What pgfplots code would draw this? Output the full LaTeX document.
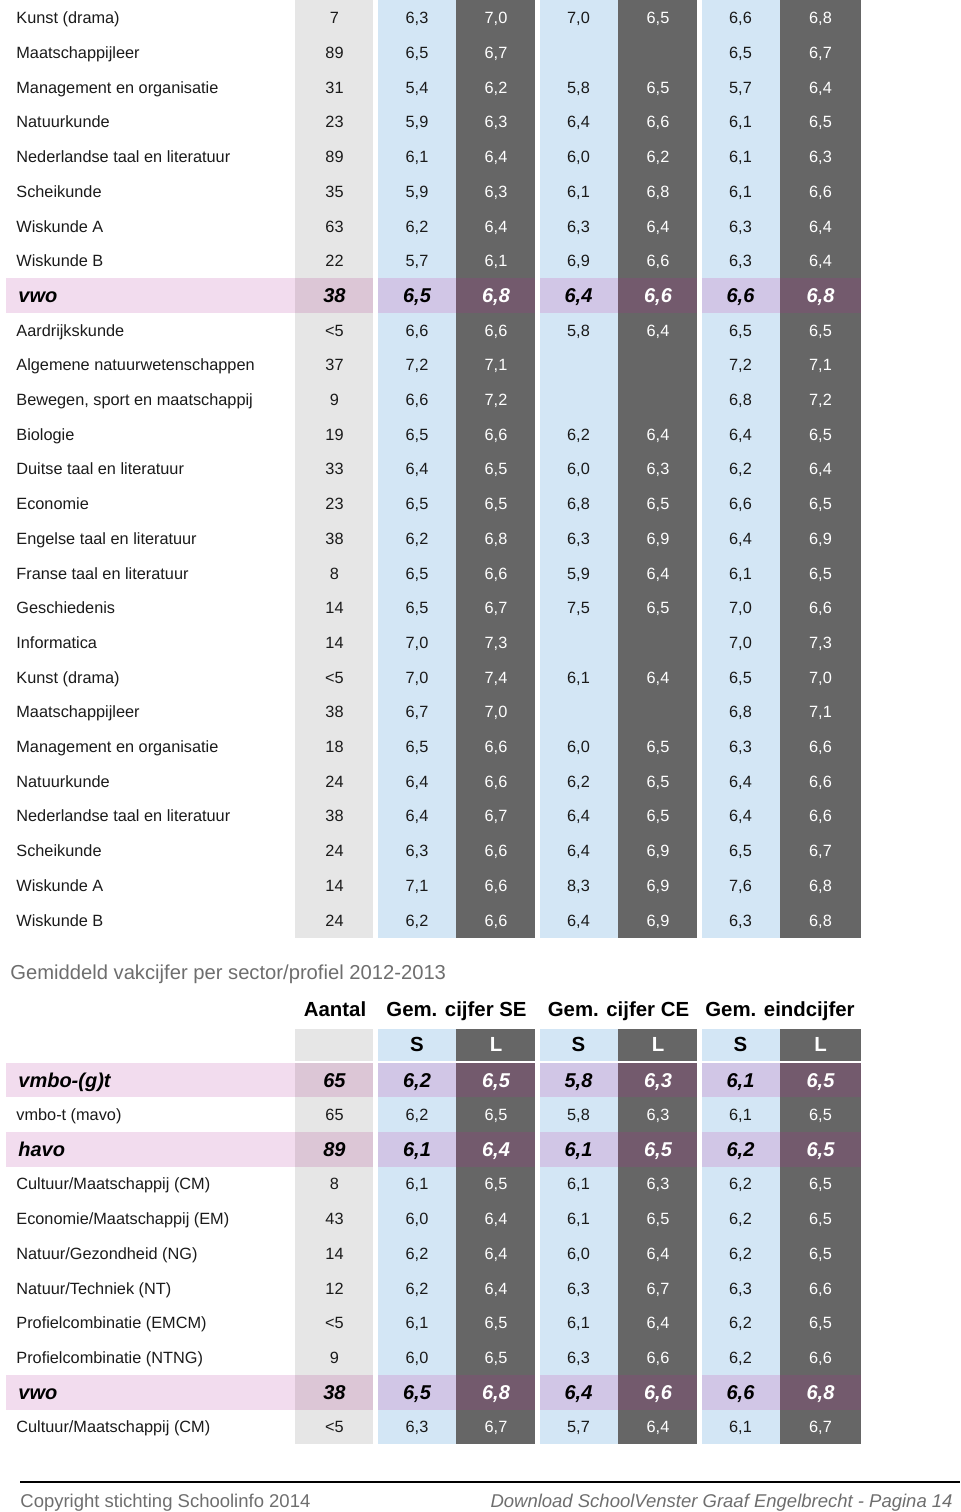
\documentclass[border=0pt]{standalone}
\usepackage{fontspec}
\setmainfont{Liberation Sans}
\usepackage{pgfplots}
\pgfplotsset{compat=1.18}
\usepackage{pgfplotstable}

\definecolor{cA}{HTML}{E6E6E6}
\definecolor{cS}{HTML}{D3E6F5}
\definecolor{cL}{HTML}{666666}
\definecolor{hP}{HTML}{F2DCEE}
\definecolor{hA}{HTML}{DCC6D6}
\definecolor{hS}{HTML}{D1C6E6}
\definecolor{hL}{HTML}{735A6D}
\definecolor{txt}{HTML}{1A1A1A}
\definecolor{grayt}{HTML}{6E6E6E}

\newcommand\fbody{\fontsize{8.15}{9.8}\selectfont}
\newcommand\fhl{\fontsize{10}{12}\selectfont\bfseries\itshape}
\newcommand\fhead{\fontsize{10.2}{12}\selectfont\bfseries}

% filled cell: x1 x2 y1 y2 colour
\newcommand\cell[5]{\addplot[fill=#5, draw=none, forget plot] coordinates {(#1,#3) (#2,#3) (#2,#4) (#1,#4)} -- cycle;}
% text column: column, x, baseline of row 0, font, colour, table, anchor
\newcommand\txtcol[7]{\addplot[draw=none, forget plot, nodes near coords={\pgfplotspointmeta}, point meta=explicit symbolic,
  every node near coord/.append style={anchor=#7, inner sep=0pt, font=#4, text=#5}]
  table[x expr=#2, y expr={#3+34.7*\thisrow{row}}, meta=#1] {#6};}
\newcommand\allcols[5]{% table, baseline row0, font, dark-text colour, label x
  \txtcol{label}{#5}{#2}{#3}{#4}{#1}{base west}
  \txtcol{A}{334.5}{#2}{#3}{#4}{#1}{base}
  \txtcol{S1}{417}{#2}{#3}{#4}{#1}{base}
  \txtcol{L1}{496}{#2}{#3}{white}{#1}{base}
  \txtcol{S2}{578.5}{#2}{#3}{#4}{#1}{base}
  \txtcol{L2}{658}{#2}{#3}{white}{#1}{base}
  \txtcol{S3}{740.5}{#2}{#3}{#4}{#1}{base}
  \txtcol{L3}{820.5}{#2}{#3}{white}{#1}{base}}
\newcommand\hlrow[2]{%
  \cell{6}{295}{#1}{#2}{hP}
  \cell{295}{373}{#1}{#2}{hA}
  \cell{378}{456}{#1}{#2}{hS}
  \cell{456}{535}{#1}{#2}{hL}
  \cell{540}{618}{#1}{#2}{hS}
  \cell{618}{697}{#1}{#2}{hL}
  \cell{702}{780}{#1}{#2}{hS}
  \cell{780}{861}{#1}{#2}{hL}}
\newcommand\bgcols[2]{%
  \cell{295}{373}{#1}{#2}{cA}
  \cell{378}{456}{#1}{#2}{cS}
  \cell{456}{535}{#1}{#2}{cL}
  \cell{540}{618}{#1}{#2}{cS}
  \cell{618}{697}{#1}{#2}{cL}
  \cell{702}{780}{#1}{#2}{cS}
  \cell{780}{861}{#1}{#2}{cL}}

\pgfplotstableread[col sep=semicolon]{
row;label;A;S1;L1;S2;L2;S3;L3
0;Kunst (drama);7;6,3;7,0;7,0;6,5;6,6;6,8
1;Maatschappijleer;89;6,5;6,7;;;6,5;6,7
2;Management en organisatie;31;5,4;6,2;5,8;6,5;5,7;6,4
3;Natuurkunde;23;5,9;6,3;6,4;6,6;6,1;6,5
4;Nederlandse taal en literatuur;89;6,1;6,4;6,0;6,2;6,1;6,3
5;Scheikunde;35;5,9;6,3;6,1;6,8;6,1;6,6
6;Wiskunde A;63;6,2;6,4;6,3;6,4;6,3;6,4
7;Wiskunde B;22;5,7;6,1;6,9;6,6;6,3;6,4
9;Aardrijkskunde;<5;6,6;6,6;5,8;6,4;6,5;6,5
10;Algemene natuurwetenschappen;37;7,2;7,1;;;7,2;7,1
11;Bewegen, sport en maatschappij;9;6,6;7,2;;;6,8;7,2
12;Biologie;19;6,5;6,6;6,2;6,4;6,4;6,5
13;Duitse taal en literatuur;33;6,4;6,5;6,0;6,3;6,2;6,4
14;Economie;23;6,5;6,5;6,8;6,5;6,6;6,5
15;Engelse taal en literatuur;38;6,2;6,8;6,3;6,9;6,4;6,9
16;Franse taal en literatuur;8;6,5;6,6;5,9;6,4;6,1;6,5
17;Geschiedenis;14;6,5;6,7;7,5;6,5;7,0;6,6
18;Informatica;14;7,0;7,3;;;7,0;7,3
19;Kunst (drama);<5;7,0;7,4;6,1;6,4;6,5;7,0
20;Maatschappijleer;38;6,7;7,0;;;6,8;7,1
21;Management en organisatie;18;6,5;6,6;6,0;6,5;6,3;6,6
22;Natuurkunde;24;6,4;6,6;6,2;6,5;6,4;6,6
23;Nederlandse taal en literatuur;38;6,4;6,7;6,4;6,5;6,4;6,6
24;Scheikunde;24;6,3;6,6;6,4;6,9;6,5;6,7
25;Wiskunde A;14;7,1;6,6;8,3;6,9;7,6;6,8
26;Wiskunde B;24;6,2;6,6;6,4;6,9;6,3;6,8
}\toptable

\pgfplotstableread[col sep=semicolon]{
row;label;A;S1;L1;S2;L2;S3;L3
8;vwo;38;6,5;6,8;6,4;6,6;6,6;6,8
}\tophl

\pgfplotstableread[col sep=semicolon]{
row;label;A;S1;L1;S2;L2;S3;L3
1;vmbo-t (mavo);65;6,2;6,5;5,8;6,3;6,1;6,5
3;Cultuur/Maatschappij (CM);8;6,1;6,5;6,1;6,3;6,2;6,5
4;Economie/Maatschappij (EM);43;6,0;6,4;6,1;6,5;6,2;6,5
5;Natuur/Gezondheid (NG);14;6,2;6,4;6,0;6,4;6,2;6,5
6;Natuur/Techniek (NT);12;6,2;6,4;6,3;6,7;6,3;6,6
7;Profielcombinatie (EMCM);<5;6,1;6,5;6,1;6,4;6,2;6,5
8;Profielcombinatie (NTNG);9;6,0;6,5;6,3;6,6;6,2;6,6
10;Cultuur/Maatschappij (CM);<5;6,3;6,7;5,7;6,4;6,1;6,7
}\bottable

\pgfplotstableread[col sep=semicolon]{
row;label;A;S1;L1;S2;L2;S3;L3
0;vmbo-(g)t;65;6,2;6,5;5,8;6,3;6,1;6,5
2;havo;89;6,1;6,4;6,1;6,5;6,2;6,5
9;vwo;38;6,5;6,8;6,4;6,6;6,6;6,8
}\bothl

\begin{document}
\begin{tikzpicture}
\begin{axis}[width=480pt, height=756pt, scale only axis,
  xmin=0, xmax=960, ymin=0, ymax=1512, y dir=reverse,
  hide axis, clip=false]
\addplot[draw=none, forget plot] coordinates {(0,0) (960,1512)};
% top table backgrounds
\bgcols{0}{937.5}
\hlrow{278.3}{313.2}
% bottom table header cells and backgrounds
\bgcols{1029}{1061}
\bgcols{1063}{1444}
\hlrow{1063}{1097.35}
\hlrow{1132.05}{1166.75}
\hlrow{1374.95}{1409.65}
% texts of top table
\allcols{\toptable}{23.8}{\fbody}{txt}{16}
\allcols{\tophl}{25.2}{\fhl}{black}{18}
% texts of bottom table
\allcols{\bottable}{1085.8}{\fbody}{txt}{16}
\allcols{\bothl}{1087.2}{\fhl}{black}{18}
% title and headers
\node[anchor=base west, inner sep=0pt, text=grayt, font=\fontsize{10.1}{12}\selectfont] at (axis cs:10,979) {Gemiddeld vakcijfer per sector/profiel 2012-2013};
\node[anchor=base, inner sep=0pt, font=\fhead] at (axis cs:335,1016.5) {Aantal};
\node[anchor=base, inner sep=0pt, font=\fhead] at (axis cs:456.5,1016.5) {Gem. cijfer SE};
\node[anchor=base, inner sep=0pt, font=\fhead] at (axis cs:618.5,1016.5) {Gem. cijfer CE};
\node[anchor=base, inner sep=0pt, font=\fhead] at (axis cs:780,1016.5) {Gem. eindcijfer};
\node[anchor=base, inner sep=0pt, font=\fhead] at (axis cs:417,1051.7) {S};
\node[anchor=base, inner sep=0pt, font=\fhead, text=white] at (axis cs:496,1051.7) {L};
\node[anchor=base, inner sep=0pt, font=\fhead] at (axis cs:578.5,1051.7) {S};
\node[anchor=base, inner sep=0pt, font=\fhead, text=white] at (axis cs:658,1051.7) {L};
\node[anchor=base, inner sep=0pt, font=\fhead] at (axis cs:740.5,1051.7) {S};
\node[anchor=base, inner sep=0pt, font=\fhead, text=white] at (axis cs:820.5,1051.7) {L};
% footer
\addplot[black, line width=1pt, forget plot] coordinates {(20,1482) (960,1482)};
\node[anchor=base west, inner sep=0pt, text=grayt, font=\fontsize{9.25}{11}\selectfont] at (axis cs:20,1507.5) {Copyright stichting Schoolinfo 2014};
\node[anchor=base east, inner sep=0pt, text=grayt, font=\fontsize{9.25}{11}\selectfont\itshape] at (axis cs:953,1507.5) {Download SchoolVenster Graaf Engelbrecht - Pagina 14};
\end{axis}
\end{tikzpicture}
\end{document}
